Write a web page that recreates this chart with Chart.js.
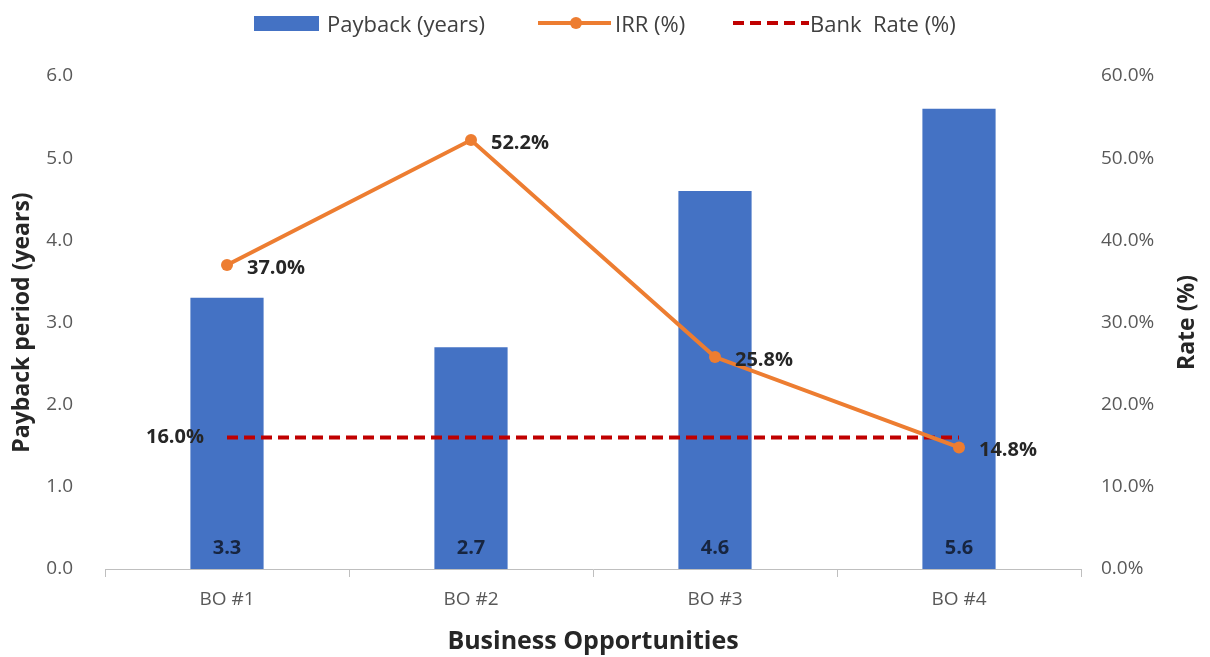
<!DOCTYPE html>
<html>
<head>
<meta charset="utf-8">
<script src="https://cdn.jsdelivr.net/npm/chart.js@4.4.0/dist/chart.umd.min.js"></script>
<style>
  body { margin: 0; background: #fff; }
  #wrap { position: relative; width: 1210px; height: 657px; }
  .lg { position: absolute; font-family: "Open Sans", sans-serif; font-size: 22px; color: #404040; white-space: pre; line-height: 26px; top: 10px; }
  .box { position: absolute; left: 254px; top: 16px; width: 65px; height: 15px; background: #4472C4; }
  .irrLine { position: absolute; left: 538px; top: 21px; width: 73px; height: 4px; background: #ED7D31; }
  .irrDot { position: absolute; left: 570px; top: 17px; width: 12px; height: 12px; border-radius: 50%; background: #ED7D31; }
  .bankLine { position: absolute; left: 733px; top: 21px; width: 76px; height: 4px;
    background: repeating-linear-gradient(90deg, #C00000 0 11px, transparent 11px 17px); }
</style>
</head>
<body>
<div id="wrap">
  <canvas id="chart" width="1210" height="657"></canvas>
  <div class="box"></div><div class="lg" style="left:327px">Payback (years)</div>
  <div class="irrLine"></div><div class="irrDot"></div><div class="lg" style="left:615px">IRR (%)</div>
  <div class="bankLine"></div><div class="lg" style="left:810px">Bank  Rate (%)</div>
</div>
<script>
const categories = ['BO #1', 'BO #2', 'BO #3', 'BO #4'];
const paybackYears = [3.3, 2.7, 4.6, 5.6];
const irrPct = [37.0, 52.2, 25.8, 14.8];
const bankRatePct = [16.0, 16.0, 16.0, 16.0];

const font = '"Open Sans", sans-serif';

// value labels drawn at the element positions, plus the right axis title (reads upward)
const valueLabels = {
  id: 'valueLabels',
  afterDatasetsDraw(chart) {
    const ctx = chart.ctx;
    const base = chart.scales.y.getPixelForValue(0);
    ctx.save();
    ctx.font = 'bold 20px ' + font;
    ctx.textBaseline = 'middle';

    ctx.fillStyle = '#172540';
    ctx.textAlign = 'center';
    chart.getDatasetMeta(0).data.forEach((bar, i) => {
      ctx.fillText(paybackYears[i].toFixed(1), bar.x, base - 21);
    });

    ctx.fillStyle = '#262626';
    ctx.textAlign = 'left';
    chart.getDatasetMeta(1).data.forEach((pt, i) => {
      ctx.fillText(irrPct[i].toFixed(1) + '%', pt.x + 20, pt.y + 3);
    });

    ctx.textAlign = 'right';
    let first = chart.getDatasetMeta(2).data[0];
    ctx.fillText(bankRatePct[0].toFixed(1) + '%', first.x - 23, first.y);

    // right axis title
    const area = chart.chartArea;
    ctx.translate(1187, (area.top + area.bottom) / 2);
    ctx.rotate(-Math.PI / 2);
    ctx.textAlign = 'center';
    ctx.font = 'bold 23px ' + font;
    ctx.fillText('Rate (%)', 0, 0);
    ctx.restore();
  }
};

new Chart(document.getElementById('chart'), {
  data: {
    labels: categories,
    datasets: [
      {
        type: 'bar',
        label: 'Payback (years)',
        data: paybackYears,
        backgroundColor: '#4472C4',
        yAxisID: 'y',
        barPercentage: 0.3,
        categoryPercentage: 1,
        order: 2
      },
      {
        type: 'line',
        label: 'IRR (%)',
        data: irrPct,
        borderColor: '#ED7D31',
        backgroundColor: '#ED7D31',
        borderWidth: 4,
        pointRadius: 6,
        pointBorderWidth: 0,
        tension: 0,
        yAxisID: 'y1',
        order: 0
      },
      {
        type: 'line',
        label: 'Bank  Rate (%)',
        data: bankRatePct,
        borderColor: '#C00000',
        borderWidth: 4,
        borderDash: [11, 6],
        pointRadius: 0,
        yAxisID: 'y1',
        order: 1
      }
    ]
  },
  options: {
    responsive: false,
    animation: false,
    layout: { padding: { top: 76, left: 0, right: 0, bottom: 0 } },
    plugins: {
      legend: { display: false },
      tooltip: { enabled: false }
    },
    scales: {
      x: {
        offset: true,
        grid: { offset: true, drawOnChartArea: false, tickLength: 8, color: '#BFBFBF' },
        border: { color: '#BFBFBF', width: 1 },
        ticks: { color: '#595959', font: { family: font, size: 19 }, padding: 11 },
        title: { display: true, text: 'Business Opportunities', color: '#262626', font: { family: font, size: 25, weight: 'bold' }, padding: { top: 9, bottom: 0 } },
        afterFit(scale) { scale.height = 88; }
      },
      y: {
        position: 'left',
        min: 0,
        max: 6,
        ticks: { stepSize: 1, color: '#595959', font: { family: font, size: 19 }, padding: 24,
          callback: v => v.toFixed(1) },
        grid: { display: false },
        border: { display: false },
        title: { display: true, text: 'Payback period (years)', color: '#262626', font: { family: font, size: 23, weight: 'bold' }, padding: { top: 9 } },
        afterFit(scale) { scale.width = 105; }
      },
      y1: {
        position: 'right',
        min: 0,
        max: 60,
        ticks: { stepSize: 10, color: '#595959', font: { family: font, size: 19 }, padding: 12,
          callback: v => v.toFixed(1) + '%' },
        grid: { display: false },
        border: { display: false },
        afterFit(scale) { scale.width = 129; }
      }
    }
  },
  plugins: [valueLabels]
});
</script>
</body>
</html>
